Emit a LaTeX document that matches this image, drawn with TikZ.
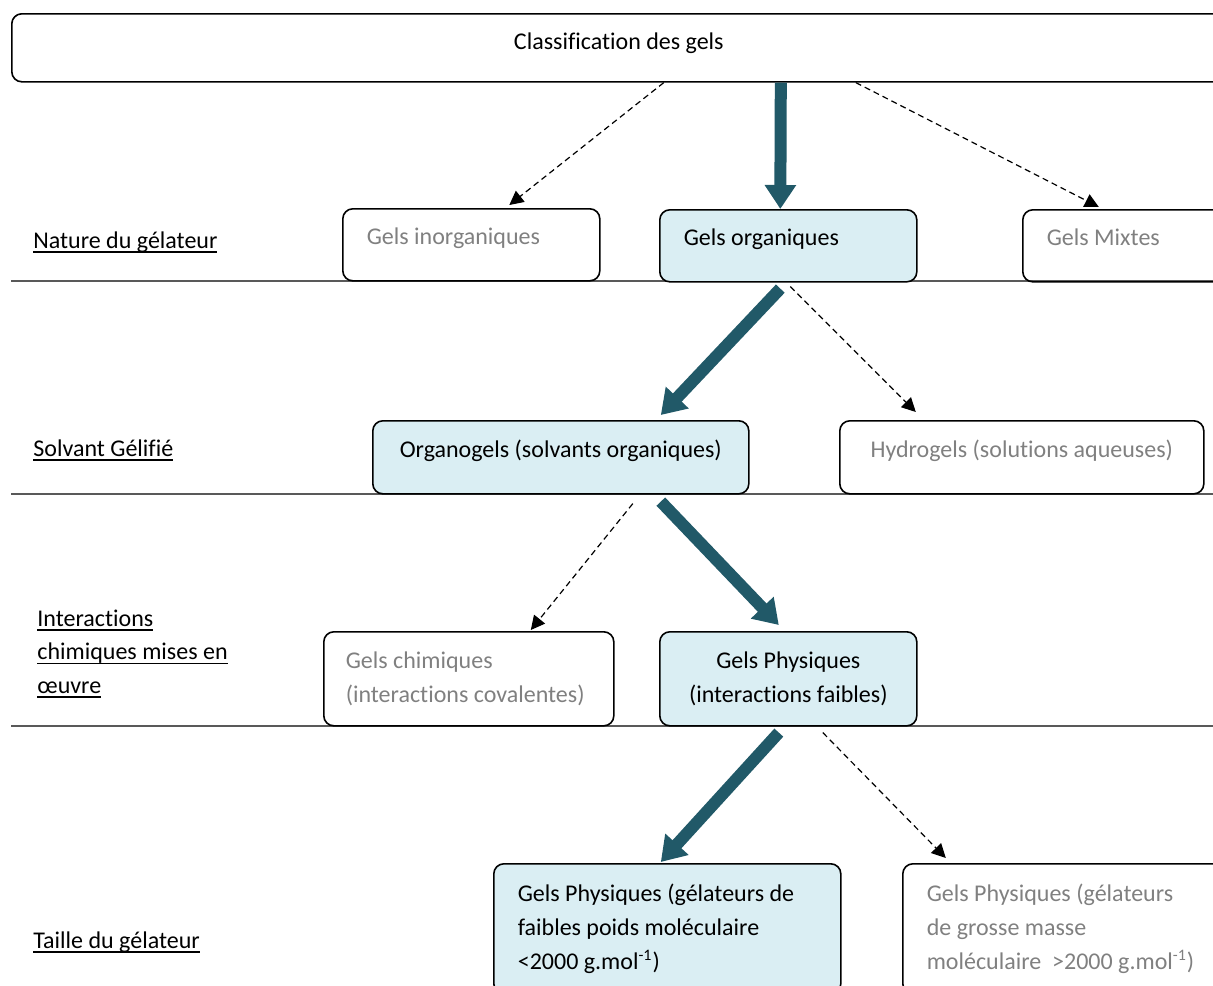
\documentclass[tikz,border=0pt]{standalone}
\usepackage{fontspec}
\setmainfont{Carlito}[Ligatures=NoCommon]
\usepackage{xcolor}
\usetikzlibrary{arrows.meta}
\definecolor{gelblue}{RGB}{218,238,243}
\definecolor{gelteal}{RGB}{33,89,104}
\definecolor{gelgrey}{RGB}{128,128,128}
\newsavebox{\gelbox}
\newcommand{\gelul}[1]{\sbox{\gelbox}{#1}\rlap{\rule[-2.4pt]{\wd\gelbox}{0.7pt}}\usebox{\gelbox}}

\begin{document}
\begin{tikzpicture}[x=0.5pt, y=-0.5pt,
    box/.style={draw, rounded corners=5pt, line width=0.8pt, anchor=north west, inner xsep=12pt, font=\fontsize{12}{17}\selectfont},
    pale/.style={box, text=gelgrey},
    chosen/.style={box, fill=gelblue},
    oneline/.style={text height=8pt, text depth=8pt},
    fat/.style={draw=gelteal, line width=6pt, -{Triangle[width=15pt,length=12pt]}},
    maybe/.style={black, line width=0.6pt, dash pattern=on 3pt off 2pt, -{Triangle[width=7pt,length=7pt]}},
    level/.style={anchor=base west, inner sep=0pt, align=flush left, font=\fontsize{12}{16.75}\selectfont},
    sep/.style={draw=black!65, line width=0.6pt}]
    \useasboundingbox (0,0) rectangle (1213,985);

    % separators
    \draw[sep] (11,281) -- (1213,281);
    \draw[sep] (11,494) -- (1213,494);
    \draw[sep] (11,726) -- (1213,726);

    % levels
    \node[level] (nature) at (33,248) {\gelul{Nature du gélateur}};
    \node[level] (solvant) at (33,456) {\gelul{Solvant Gélifié}};
    \node[level] (interactions) at (37,693) {\gelul{Interactions}\\\gelul{chimiques mises en}\\\gelul{œuvre}};
    \node[level] (taille) at (33,948) {\gelul{Taille du gélateur}};

    % boxes
    \node[box, text height=8pt, text depth=6pt, minimum width=607pt, minimum height=34pt] (top) at (11,13) {Classification des gels};
    \node[pale, oneline, minimum width=128.5pt, text width=104.5pt, align=flush left, minimum height=36pt] (inorg) at (342,208) {Gels inorganiques};
    \node[chosen, oneline, minimum width=128.5pt, text width=104.5pt, align=flush left, minimum height=36pt] (org) at (659,209) {Gels organiques};
    \node[pale, oneline, minimum width=105pt, text width=81pt, align=flush left, minimum height=36pt] (mixtes) at (1022,209) {Gels Mixtes};
    \node[chosen, oneline, minimum width=188pt, minimum height=36.5pt] (organo) at (372,420) {Organogels (solvants organiques)};
    \node[pale, oneline, minimum width=182pt, minimum height=36.5pt] (hydro) at (839,420) {Hydrogels (solutions aqueuses)};
    \node[pale, inner xsep=11pt, minimum width=145pt, text width=123pt, align=flush left, minimum height=47pt] (chim) at (323,631) {Gels chimiques\\(interactions covalentes)};
    \node[chosen, align=center, minimum width=128.5pt, minimum height=47pt] (phys) at (659,631) {Gels Physiques\\(interactions faibles)};
    \node[chosen, minimum width=173.5pt, text width=149.5pt, align=flush left, minimum height=65pt] (petit) at (493,863) {Gels Physiques (gélateurs de\\faibles poids moléculaire\\<2000 g.mol\textsuperscript{-1})};
    \node[pale, minimum width=170pt, text width=146pt, align=flush left, minimum height=65pt] (grand) at (902,863) {Gels Physiques (gélateurs\\de grosse masse\\moléculaire~ >2000 g.mol\textsuperscript{-1})};

    % connectors
    \draw[fat] ([xshift=81pt]top.south) -- ([xshift=-4pt]org.north);
    \draw[maybe] ([xshift=22.5pt]top.south) -- ([xshift=19pt,yshift=1.5pt]inorg.north);
    \draw[maybe] ([xshift=118.5pt]top.south) -- ([xshift=-14.5pt,yshift=1pt]mixtes.north);
    \draw[fat] ([xshift=-4pt,yshift=-3pt]org.south) -- ([xshift=50pt,yshift=2.5pt]organo.north);
    \draw[maybe] ([xshift=1pt,yshift=-2pt]org.south) -- ([xshift=-53pt,yshift=4pt]hydro.north);
    \draw[maybe] ([xshift=36pt,yshift=-4.5pt]organo.south) -- ([xshift=31pt,yshift=0.5pt]chim.north);
    \draw[fat] ([xshift=50pt,yshift=-3.5pt]organo.south) -- ([xshift=-4.75pt,yshift=3pt]phys.north);
    \draw[fat] ([xshift=-4.75pt,yshift=-3pt]phys.south) -- ([xshift=-3.25pt,yshift=0.5pt]petit.north);
    \draw[maybe] ([xshift=17.25pt,yshift=-3pt]phys.south) -- ([xshift=-63.5pt,yshift=2.5pt]grand.north);
\end{tikzpicture}
\end{document}
